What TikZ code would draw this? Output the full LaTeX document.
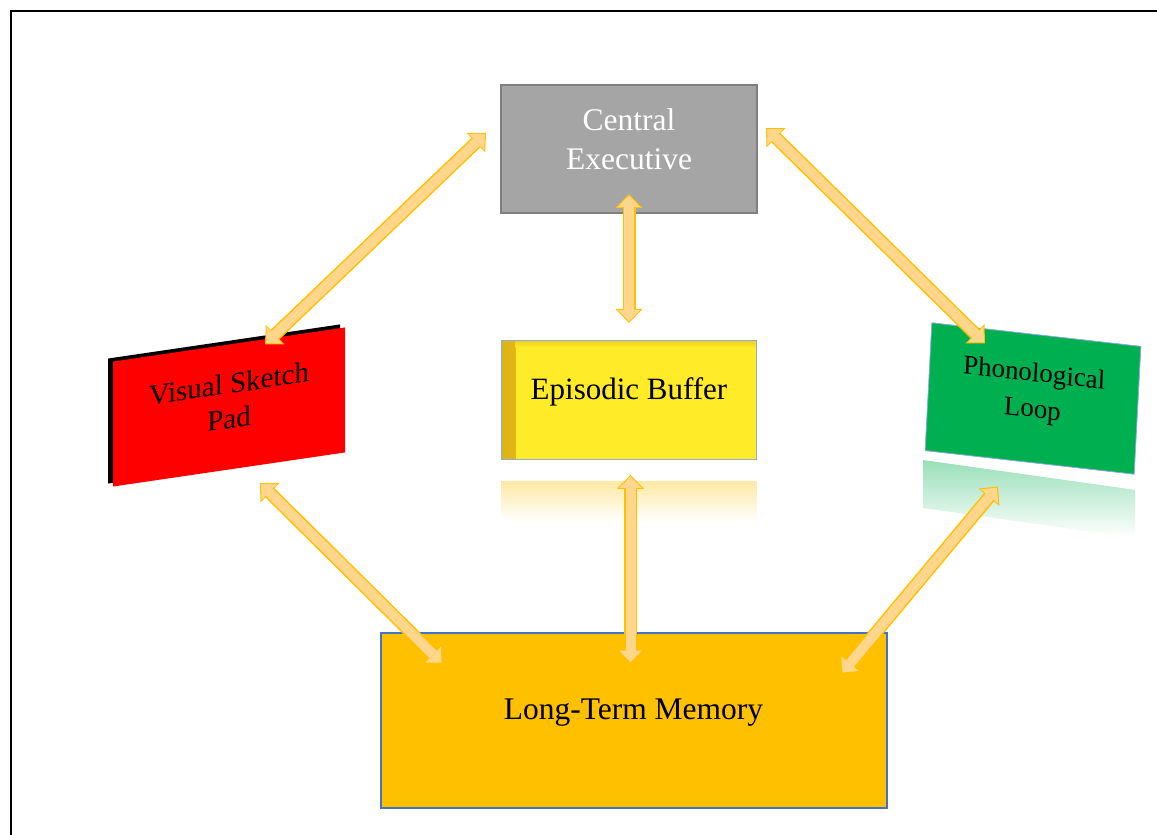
\documentclass[tikz,border=0pt]{standalone}
\usepackage{fontspec}
\setmainfont{Liberation Serif}
\usepackage{tikz}
\usetikzlibrary{arrows.meta, positioning, calc, shadows}
\definecolor{cegray}{RGB}{165, 165, 165}
\definecolor{ceborder}{RGB}{127, 127, 127}
\definecolor{ebyellow}{RGB}{255, 235, 40}
\definecolor{ebshade}{RGB}{222, 180, 20}
\definecolor{paleblue}{RGB}{143, 170, 220}
\definecolor{vspred}{RGB}{255, 0, 0}
\definecolor{plgreen}{RGB}{0, 176, 80}
\definecolor{ltmamber}{RGB}{255, 192, 0}
\definecolor{ltmborder}{RGB}{68, 114, 196}
\definecolor{arrowfill}{RGB}{255, 214, 140}

\begin{document}
\begin{tikzpicture}[
    x=1pt, y=1pt,
    every node/.style={align=center, inner sep=0pt},
    cebox/.style={draw=ceborder, fill=cegray, line width=2pt, minimum width=256pt, minimum height=128pt, text=white, font=\fontsize{31.5}{39}\selectfont, text depth=20pt},
    ebbox/.style={draw=paleblue, fill=ebyellow, line width=0.8pt, minimum width=255pt, minimum height=119pt, font=\fontsize{31}{37}\selectfont, text depth=22pt,
        path picture={
            \shade[left color=ebshade, right color=ebyellow] (path picture bounding box.north west) rectangle ([xshift=14pt]path picture bounding box.south west);
            \shade[top color=ebshade!50!ebyellow, bottom color=ebyellow] ([xshift=14pt]path picture bounding box.north west) rectangle ([yshift=-7pt]path picture bounding box.north east);}},
    vspbox/.style={fill=vspred, minimum width=232pt, minimum height=125pt, yslant=0.147, font=\fontsize{29}{35}\selectfont, text depth=12pt,
        general shadow={fill=black, shadow xshift=-5pt, shadow yshift=3pt}},
    plbox/.style={draw=paleblue, fill=plgreen, line width=0.8pt, minimum width=210pt, minimum height=128pt, rotate=-3, yslant=-0.06, font=\fontsize{27}{36}\selectfont, text depth=17pt},
    ltmbox/.style={draw=ltmborder, fill=ltmamber, line width=2pt, minimum width=506pt, minimum height=175pt, font=\fontsize{31.5}{38}\selectfont, text depth=22pt},
    arrout/.style={draw=ltmamber, line width=13pt, {Triangle[length=14pt, width=27pt, line width=0pt]}-{Triangle[length=14pt, width=27pt, line width=0pt]}},
    arrin/.style={draw=arrowfill, line width=10pt, shorten <=1.6pt, shorten >=1.6pt, {Triangle[length=11.5pt, width=22.5pt, line width=0pt]}-{Triangle[length=11.5pt, width=22.5pt, line width=0pt]}}
]
\useasboundingbox (0,0) rectangle (1157,835);

% Frame
\draw[line width=2pt] (11,-5) -- (11,824) -- (1162,824);

% Components
\node[cebox] (ce) at (629,686) {Central\\Executive};
\node[ebbox, below=126pt of ce] (eb) {Episodic Buffer};
\node[ltmbox, below=172pt of eb, xshift=4.5pt] (ltm) {Long-Term Memory};
\node[vspbox] (vsp) at (229,428) {Visual Sketch\\Pad};
\node[plbox] (pl) at (1033,436.5) {Phonological\\Loop};

% Reflections
\shade[top color=ltmamber!35!white, bottom color=white] ([yshift=-22pt]eb.south west) rectangle ([yshift=-62pt]eb.south east);
\shade[top color=plgreen!40!white, bottom color=white, shift={(923,375)}, yslant=-0.141] (0,0) rectangle (212,-48);

% Central Executive links
\draw[arrout] ([shift={(-14pt,16pt)}]ce.west) -- ([xshift=36pt]vsp.north);
\draw[arrin] ([shift={(-14pt,16pt)}]ce.west) -- ([xshift=36pt]vsp.north);
\draw[arrout] ([yshift=20pt]ce.south) -- ([yshift=17pt]eb.north);
\draw[arrin] ([yshift=20pt]ce.south) -- ([yshift=17pt]eb.north);
\draw[arrout] ([shift={(8pt,21pt)}]ce.east) -- ([shift={(-48pt,55pt)}]pl.center);
\draw[arrin] ([shift={(8pt,21pt)}]ce.east) -- ([shift={(-48pt,55pt)}]pl.center);

% Long-Term Memory links
\draw[arrout] ([shift={(31pt,-76pt)}]vsp.center) -- ([shift={(63pt,-32pt)}]ltm.north west);
\draw[arrin] ([shift={(31pt,-76pt)}]vsp.center) -- ([shift={(63pt,-32pt)}]ltm.north west);
\draw[arrout] ([shift={(1.5pt,-15pt)}]eb.south) -- ([shift={(-3pt,-32pt)}]ltm.north);
\draw[arrin] ([shift={(1.5pt,-15pt)}]eb.south) -- ([shift={(-3pt,-32pt)}]ltm.north);
\draw[arrout] ([shift={(-35pt,-88pt)}]pl.center) -- ([shift={(-46pt,-42pt)}]ltm.north east);
\draw[arrin] ([shift={(-35pt,-88pt)}]pl.center) -- ([shift={(-46pt,-42pt)}]ltm.north east);

\end{tikzpicture}
\end{document}
